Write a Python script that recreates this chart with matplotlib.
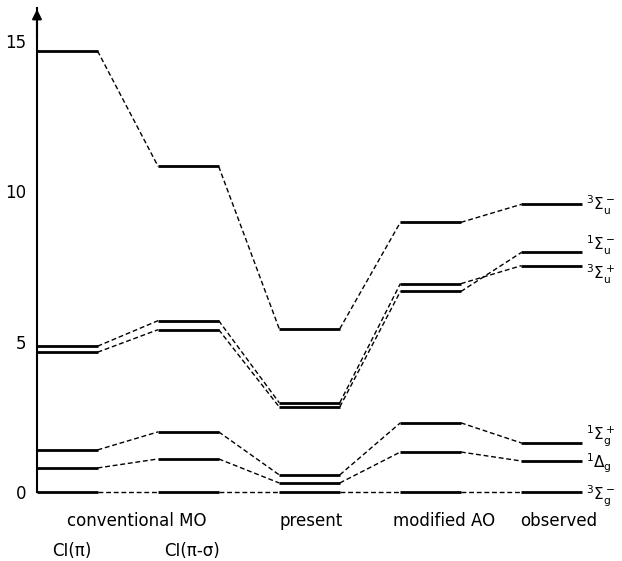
import numpy as np
import matplotlib
matplotlib.use("Agg")
import matplotlib.pyplot as plt

# energy levels (eV) per column: CI(pi), CI(pi-sigma), present, modified AO, observed
sig_u_minus_3 = [14.67, 10.83, 5.43, 8.97, 9.57]
sig_u_plus_3 = [4.85, 5.70, 2.97, 6.93, 7.53]
sig_u_minus_1 = [4.65, 5.40, 2.83, 6.67, 7.97]
sig_g_plus_1 = [1.40, 2.00, 0.57, 2.30, 1.63]
delta_g_1 = [0.80, 1.10, 0.30, 1.33, 1.03]
sig_g_minus_3 = [0.0, 0.0, 0.0, 0.0, 0.0]

states = [sig_u_minus_3, sig_u_plus_3, sig_u_minus_1, sig_g_plus_1, delta_g_1, sig_g_minus_3]
state_labels = [
    r"${}^3\Sigma^-_\mathrm{u}$",
    r"${}^3\Sigma^+_\mathrm{u}$",
    r"${}^1\Sigma^-_\mathrm{u}$",
    r"${}^1\Sigma^+_\mathrm{g}$",
    r"${}^1\Delta_\mathrm{g}$",
    r"${}^3\Sigma^-_\mathrm{g}$",
]
label_y = [9.55, 7.25, 8.2, 1.85, 0.95, -0.15]

col_names = ["conventional MO", "present", "modified AO", "observed"]
col_name_x = [0.82, 2.26, 3.36, 4.31]
sub_names = ["CI(π)", "CI(π-σ)"]
sub_x = [0.29, 1.28]
yticks = [0, 5, 10, 15]

W = 0.5  # width of a level

fig = plt.figure(figsize=(6.22, 5.61), dpi=100)
ax = fig.add_axes([37 / 622, 69 / 561, 1 - 37 / 622, 484 / 561])
ax.set_xlim(0, 4.83)
ax.set_ylim(0, 16.1)

for lev in states:
    for i, e in enumerate(lev):
        ax.plot([i, i + W], [e, e], color="black", lw=2.0, solid_capstyle="butt",
                clip_on=False)
        if i < len(lev) - 1:
            ax.plot([i + W, i + 1], [e, lev[i + 1]], color="black", lw=1.0,
                    linestyle=(0, (3.5, 2)), clip_on=False)

for lab, y in zip(state_labels, label_y):
    ax.text(4.53, y, lab, fontsize=11, va="center", ha="left")

for name, x in zip(col_names, col_name_x):
    ax.text(x, -0.95, name, fontsize=12, ha="center", va="center")
for name, x in zip(sub_names, sub_x):
    ax.text(x, -1.95, name, fontsize=12, ha="center", va="center")

for s in ["top", "right", "bottom"]:
    ax.spines[s].set_visible(False)
ax.spines["left"].set_linewidth(1.5)
ax.set_xticks([])
ax.set_yticks(yticks)
ax.tick_params(axis="y", length=0, pad=8, labelsize=12)
ax.annotate("", xy=(0, 16.15), xytext=(0, 15.0),
            arrowprops=dict(arrowstyle="-|>", color="black", lw=1.5,
                            mutation_scale=14),
            annotation_clip=False)

fig.savefig("out.png", dpi=100)
